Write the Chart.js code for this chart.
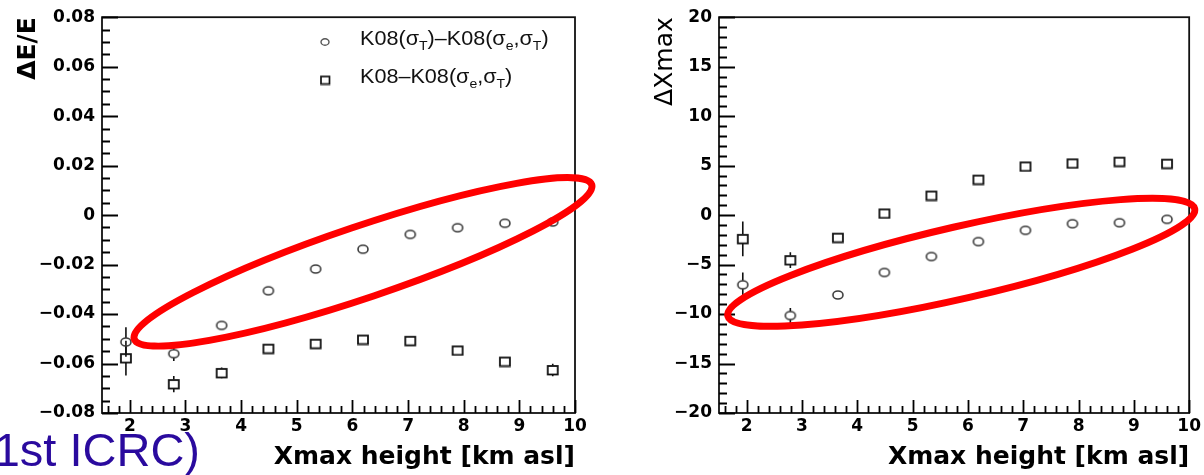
<!DOCTYPE html>
<html><head><meta charset="utf-8">
<script src="https://cdn.jsdelivr.net/npm/chart.js@4.4.1/dist/chart.umd.min.js"></script>
<style>
html,body{margin:0;padding:0;background:#fff;overflow:hidden}
#wrap{position:relative;width:1204px;height:475px;background:#fff}
.box{position:absolute;top:0}
canvas{display:block}
</style></head><body>
<div id="wrap">
<div class="box" style="left:0;width:600px;height:475px"><canvas id="c1" width="600" height="475"></canvas></div>
<div class="box" style="left:600px;width:604px;height:475px"><canvas id="c2" width="604" height="475"></canvas></div>
</div>
<script>
// ---------------- data ----------------
const xHeight = [1.93, 2.79, 3.65, 4.49, 5.34, 6.19, 7.04, 7.89, 8.74, 9.60];
const xTicks = [2, 3, 4, 5, 6, 7, 8, 9, 10];
const xTickLabels = ['2', '3', '4', '5', '6', '7', '8', '9', '10'];

// Left panel: ΔE/E
const dE_sigT     = [-0.0513, -0.0560, -0.0446, -0.0306, -0.0218, -0.0138, -0.0078, -0.0051, -0.0033, -0.0028];
const dE_sigT_err = [0.0060, 0.0030, 0.0012, 0.0010, 0.0008, 0.0008, 0.0008, 0.0008, 0.0008, 0.0008];
const dE_all      = [-0.0578, -0.0683, -0.0638, -0.0540, -0.0520, -0.0503, -0.0508, -0.0547, -0.0592, -0.0626];
const dE_all_err  = [0.0070, 0.0033, 0.0022, 0.0012, 0.0010, 0.0010, 0.0010, 0.0012, 0.0015, 0.0025];
const dETicks = [-0.08, -0.06, -0.04, -0.02, 0, 0.02, 0.04, 0.06, 0.08];
const dETickLabels = ['\u22120.08', '\u22120.06', '\u22120.04', '\u22120.02', '0', '0.02', '0.04', '0.06', '0.08'];

// Right panel: ΔXmax
const dX_sigT     = [-7.04, -10.15, -8.07, -5.80, -4.19, -2.68, -1.54, -0.87, -0.77, -0.43];
const dX_sigT_err = [1.25, 0.75, 0.40, 0.35, 0.30, 0.30, 0.30, 0.30, 0.30, 0.30];
const dX_all      = [-2.40, -4.55, -2.28, 0.17, 1.98, 3.59, 4.92, 5.23, 5.40, 5.20];
const dX_all_err  = [1.75, 0.80, 0.40, 0.40, 0.30, 0.30, 0.30, 0.30, 0.30, 0.40];
const dXTicks = [-20, -15, -10, -5, 0, 5, 10, 15, 20];
const dXTickLabels = ['\u221220', '\u221215', '\u221210', '\u22125', '0', '5', '10', '15', '20'];

const seriesNames = ['K08(\u03c3T)\u2013K08(\u03c3e,\u03c3T)', 'K08\u2013K08(\u03c3e,\u03c3T)'];
// legend text split into [text, isSubscript]
const legendParts1 = [['K08(\u03c3', 0], ['T', 1], [')\u2013K08(\u03c3', 0], ['e', 1], [',\u03c3', 0], ['T', 1], [')', 0]];
const legendParts2 = [['K08\u2013K08(\u03c3', 0], ['e', 1], [',\u03c3', 0], ['T', 1], [')', 0]];
const noteText = '1st ICRC)';

// highlighted regions (red ellipses) in data coordinates: centre, end of major axis
const ellipseLeft  = { center: [6.19, -0.0189], end: [10.30, 0.0123], ratio: 0.148 };
const ellipseRight = { center: [5.88, -4.77],   end: [10.10, 0.65],   ratio: 0.150 };

// ---------------- markers ----------------
function marker(kind, w, h, lw, color) {
  const c = document.createElement('canvas');
  c.width = w + 4; c.height = h + 4;
  const g = c.getContext('2d');
  g.strokeStyle = color; g.lineWidth = lw;
  if (kind === 'circle') {
    g.beginPath(); g.ellipse(c.width / 2, c.height / 2, w / 2, h / 2, 0, 0, 2 * Math.PI); g.stroke();
  } else {
    g.strokeRect(2, 2, w, h);
  }
  return c;
}
const circleImg = marker('circle', 10, 8, 1.6, '#3a3a3a');
const squareImg = marker('square', 10, 8.5, 1.8, '#111');
const circleLeg = marker('circle', 8, 6.5, 1.4, '#555');
const squareLeg = marker('square', 8.5, 7.5, 1.7, '#111');

// ---------------- plugin (ROOT-style frame, ticks, error bars, annotations) ----------------
const rootPlugin = {
  id: 'root',
  beforeDatasetsDraw(chart, args, o) {
    const { ctx, chartArea: a, scales: { x, y } } = chart;
    ctx.save();
    // frame
    ctx.strokeStyle = '#111'; ctx.lineWidth = 1.8;
    ctx.strokeRect(a.left, a.top, a.right - a.left, a.bottom - a.top);
    // ticks
    ctx.strokeStyle = '#000'; ctx.lineWidth = 1.8;
    ctx.beginPath();
    for (let k = Math.ceil(x.min / o.xMinor - 1e-9); k * o.xMinor <= x.max + 1e-9; k++) {
      const v = k * o.xMinor;
      const major = Math.abs(v / o.xMajor - Math.round(v / o.xMajor)) < 1e-6;
      const px = Math.round(x.getPixelForValue(v)) + 0.5;
      ctx.moveTo(px, a.bottom); ctx.lineTo(px, a.bottom - (major ? 13 : 7));
    }
    for (let k = Math.ceil(y.min / o.yMinor - 1e-9); k * o.yMinor <= y.max + 1e-9; k++) {
      const v = k * o.yMinor;
      const major = Math.abs(v / o.yMajor - Math.round(v / o.yMajor)) < 1e-6;
      const py = Math.round(y.getPixelForValue(v)) + 0.5;
      ctx.moveTo(a.left, py); ctx.lineTo(a.left + (major ? 16 : 8), py);
    }
    ctx.stroke();
    // error bars
    ctx.lineWidth = 1.6; ctx.strokeStyle = '#111';
    chart.data.datasets.forEach((ds, i) => {
      const meta = chart.getDatasetMeta(i);
      meta.data.forEach((el, j) => {
        const v = ds.data[j].y, e = ds.errors[j];
        const yt = y.getPixelForValue(v + e), yb = y.getPixelForValue(v - e);
        const h = ds.markerHalf;
        ctx.beginPath();
        if (yt < el.y - h) { ctx.moveTo(el.x, yt); ctx.lineTo(el.x, el.y - h); }
        if (yb > el.y + h) { ctx.moveTo(el.x, el.y + h); ctx.lineTo(el.x, yb); }
        ctx.stroke();
      });
    });
    ctx.restore();
  },
  afterDatasetsDraw(chart, args, o) {
    const { ctx, scales: { x, y } } = chart;
    ctx.save();
    // legend
    if (o.legend) {
      const L = o.legend;
      L.items.forEach((it, i) => {
        const by = L.y + i * L.dy;
        ctx.drawImage(it.img, L.mx - it.img.width / 2, by + L.moff - it.img.height / 2);
        let tx = L.tx;
        ctx.fillStyle = '#111'; ctx.textBaseline = 'alphabetic'; ctx.textAlign = 'left';
        it.parts.forEach(([t, sub]) => {
          ctx.font = sub ? L.subFont : L.font;
          ctx.save();
          ctx.translate(tx, sub ? by + L.subDy : by);
          ctx.scale(L.stretch, 1);
          ctx.fillText(t, 0, 0);
          ctx.restore();
          tx += ctx.measureText(t).width * L.stretch;
        });
      });
    }
    // red ellipse
    if (o.ellipse) {
      const E = o.ellipse;
      const cx = x.getPixelForValue(E.center[0]), cy = y.getPixelForValue(E.center[1]);
      const ex = x.getPixelForValue(E.end[0]), ey = y.getPixelForValue(E.end[1]);
      const ra = Math.hypot(ex - cx, ey - cy), ang = Math.atan2(ey - cy, ex - cx);
      ctx.beginPath();
      ctx.ellipse(cx, cy, ra, ra * E.ratio, ang, 0, 2 * Math.PI);
      ctx.strokeStyle = '#ff0000'; ctx.lineWidth = 7; ctx.stroke();
    }
    ctx.restore();
  },
  afterDraw(chart, args, o) {
    if (!o.note) return;
    const { ctx } = chart;
    ctx.save();
    ctx.font = o.note.font; ctx.fillStyle = o.note.color;
    ctx.textAlign = 'right'; ctx.textBaseline = 'alphabetic';
    ctx.fillText(o.note.text, o.note.x, o.note.y);
    ctx.restore();
  }
};

const tickFont = { family: 'DejaVu Sans', size: 17, weight: 'bold' };

function makeChart(id, cfg) {
  return new Chart(document.getElementById(id), {
    type: 'scatter',
    data: {
      datasets: [
        { label: seriesNames[0], data: xHeight.map((v, i) => ({ x: v, y: cfg.circ[i] })), errors: cfg.circErr,
          markerHalf: 4, pointStyle: circleImg, pointRadius: 5, showLine: false },
        { label: seriesNames[1], data: xHeight.map((v, i) => ({ x: v, y: cfg.sq[i] })), errors: cfg.sqErr,
          markerHalf: 4.5, pointStyle: squareImg, pointRadius: 5, showLine: false }
      ]
    },
    options: {
      responsive: false, animation: false, events: [],
      layout: { padding: cfg.padding },
      plugins: {
        legend: { display: false }, tooltip: { enabled: false },
        root: { xMinor: 0.2, xMajor: 1, yMinor: cfg.yMinor, yMajor: cfg.yMajor,
                ellipse: cfg.ellipse, legend: cfg.legend, note: cfg.note }
      },
      scales: {
        x: {
          type: 'linear', min: 1.5, max: 10,
          grid: { display: false, drawTicks: false, tickLength: 0 }, border: { display: false },
          afterBuildTicks: s => { s.ticks = xTicks.map(v => ({ value: v })); },
          afterFit: s => { s.height = 62; },
          ticks: { font: tickFont, color: '#000', padding: 3, maxRotation: 0, autoSkip: false,
                   callback: (v, i) => xTickLabels[i] },
          title: { display: true, text: 'Xmax height [km asl]', align: 'end', color: '#000',
                   font: { family: 'DejaVu Sans', size: 25, weight: 'bold' }, padding: { top: 0, bottom: 3 } }
        },
        y: {
          type: 'linear', min: cfg.yMin, max: cfg.yMax,
          grid: { display: false, drawTicks: false, tickLength: 0 }, border: { display: false },
          afterBuildTicks: s => { s.ticks = cfg.yTicks.map(v => ({ value: v })); },
          afterFit: s => { s.width = cfg.yWidth; },
          ticks: { font: tickFont, color: '#000', padding: 7, autoSkip: false,
                   callback: (v, i) => cfg.yTickLabels[i] },
          title: { display: true, text: cfg.yTitle, align: 'end', color: '#000',
                   font: { family: 'DejaVu Sans', size: 25, weight: cfg.yTitleWeight },
                   padding: { top: cfg.yTitlePad, bottom: 0 } }
        }
      }
    },
    plugins: [rootPlugin]
  });
}

makeChart('c1', {
  circ: dE_sigT, circErr: dE_sigT_err, sq: dE_all, sqErr: dE_all_err,
  yMin: -0.08, yMax: 0.08, yTicks: dETicks, yTickLabels: dETickLabels, yMinor: 0.005, yMajor: 0.02,
  yTitle: '\u0394E/E', yTitleWeight: 'bold', yTitlePad: 13, yWidth: 102,
  padding: { left: 0, top: 15, right: 25, bottom: 0 },
  ellipse: ellipseLeft,
  legend: { mx: 325, tx: 360, y: 45, dy: 38, moff: -3, stretch: 1.08,
            font: '20px "Liberation Sans"', subFont: '13px "Liberation Sans"', subDy: 5,
            items: [{ img: circleLeg, parts: legendParts1 }, { img: squareLeg, parts: legendParts2 }] },
  note: { text: noteText, x: 200, y: 466, font: '47px "Liberation Sans"', color: '#2a0a9e' }
});

makeChart('c2', {
  circ: dX_sigT, circErr: dX_sigT_err, sq: dX_all, sqErr: dX_all_err,
  yMin: -20, yMax: 20, yTicks: dXTicks, yTickLabels: dXTickLabels, yMinor: 1, yMajor: 5,
  yTitle: '\u0394Xmax', yTitleWeight: 'normal', yTitlePad: 50, yWidth: 119,
  padding: { left: 0, top: 15, right: 12, bottom: 0 },
  ellipse: ellipseRight
});
</script>
</body></html>
